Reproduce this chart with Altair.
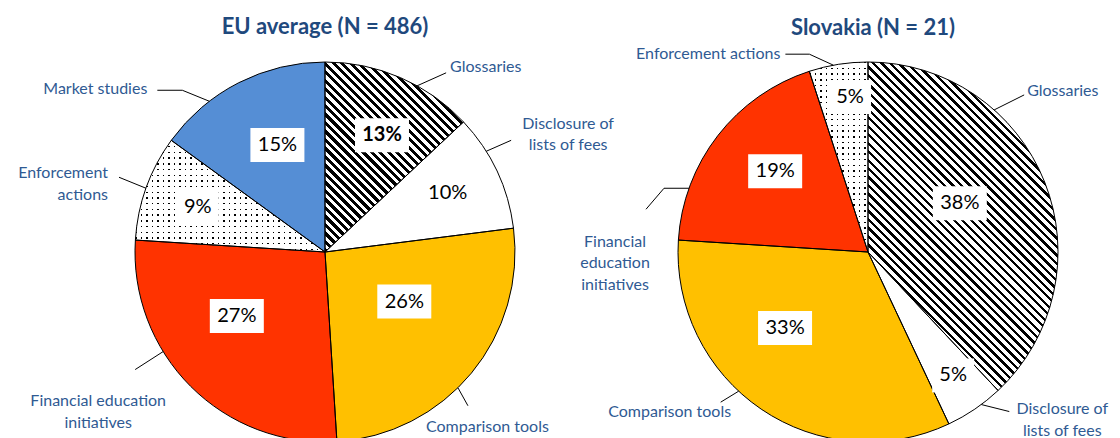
import json
import math

import altair as alt
import pandas as pd

# ---------------- data ----------------
categories = [
    "Glossaries",
    "Disclosure of lists of fees",
    "Comparison tools",
    "Financial education initiatives",
    "Enforcement actions",
    "Market studies",
]
eu_values = [13, 10, 26, 27, 9, 15]

sk_categories = [
    "Glossaries",
    "Disclosure of lists of fees",
    "Comparison tools",
    "Financial education initiatives",
    "Enforcement actions",
]
sk_values = [38, 5, 33, 19, 5]

titles = ["EU average (N = 486)", "Slovakia (N = 21)"]

eu_label_text = [
    "Glossaries",
    "Disclosure of\nlists of fees",
    "Comparison tools",
    "Financial education\ninitiatives",
    "Enforcement\nactions",
    "Market studies",
]
sk_label_text = [
    "Glossaries",
    "Disclosure of\nlists of fees",
    "Comparison tools",
    "Financial\neducation\ninitiatives",
    "Enforcement  actions",
]
eu_bold_pct = ["Glossaries"]
sk_bold_pct = []

# ---------------- layout / style ----------------
PAGE = 8
WIDTH, HEIGHT = 1104, 440
RADIUS = 190
FONT = "Lato"
TITLE_COLOR = "#1F497D"
LABEL_COLOR = "#2F5A93"

eu_center = (325 - PAGE, 252 - PAGE)
sk_center = (868 - PAGE, 252 - PAGE)
title_pos = [(325 - PAGE, 27 - PAGE), (873 - PAGE, 28 - PAGE)]

solid_fill = {
    "Disclosure of lists of fees": "#FFFFFF",
    "Comparison tools": "#FFC000",
    "Financial education initiatives": "#FF3300",
    "Market studies": "#558ED5",
}
hatch_cats = ["Glossaries"]
dot_cats = ["Enforcement actions"]

# percent label placement: angle nudge from slice middle (deg), distance from centre (px)
eu_pct_nudge = [2.6, -0.4, -7.6, 9.0, -0.3, 3.0]
eu_pct_r = [130, 136, 93.5, 109, 135, 117]
sk_pct_nudge = [-6.4, -0.4, 13.3, 3.2, 2.4]
sk_pct_r = [104, 150, 112.5, 123, 156]

# leader lines: rim angle, relative moves, text offset from last point, text align
eu_leaders = [
    (29, [(29, -13)], (4, -6), "left"),
    (58, [(25, -11)], (57, -16.5), "center"),
    (135.6, [(10, 18)], (19.5, 21), "center"),
    (238.4, [(-28, 18)], (-37, 31.5), "center"),
    (289.6, [(-27, -11)], (-11, -4), "right"),
    (322.5, [(-27, -11), (-25, 0)], (-10, -1), "right"),
]
sk_leaders = [
    (41.6, [(30, -15)], (3, -4), "left"),
    (143.4, [(28, 7)], (53, -2.5), "center"),
    (222.9, [(-18, 11)], (-51, 10), "center"),
    (289.6, [(-25, 0), (-18, 21)], (-31, 32.5), "center"),
    (349.5, [(-24, -11), (-24, 0)], (-5, 0), "right"),
]


def stripe_stops(length, period, on, on_color, off_color):
    stops = [{"offset": 0, "color": on_color}]
    k = 0
    while k * period < length:
        s = k * period / length
        e = min((k * period + on) / length, 1.0)
        if k > 0:
            stops.append({"offset": round(s, 5), "color": off_color})
            stops.append({"offset": round(s, 5), "color": on_color})
        stops.append({"offset": round(e, 5), "color": on_color})
        stops.append({"offset": round(e, 5), "color": off_color})
        k += 1
    stops.append({"offset": 1, "color": off_color})
    return stops


def hatch_gradient(w, h, period, on):
    t = (w + h) / (w * w + h * h)
    L = (w + h) / math.sqrt(2)
    return {
        "gradient": "linear",
        "x1": 0, "y1": 1, "x2": t * w, "y2": 1 - t * h,
        "stops": stripe_stops(L, period, on, "#000000", "#FFFFFF"),
    }


def vline_gradient(w, period=5.5, on=1.4):
    return {
        "gradient": "linear",
        "x1": 0, "y1": 0, "x2": 1, "y2": 0,
        "stops": stripe_stops(w, period, on, "#000000", "#FFFFFF"),
    }


def hmask_gradient(h, period=5.7, on=1.4):
    return {
        "gradient": "linear",
        "x1": 0, "y1": 0, "x2": 0, "y2": 1,
        "stops": stripe_stops(h, period, on, "rgba(255,255,255,0)", "#FFFFFF"),
    }


def slice_bbox(a0, a1, r):
    pts = [(0.0, 0.0)]
    angles = [a0, a1] + [q for q in (0, 90, 180, 270, 360) if a0 < q < a1]
    for a in angles:
        rad = math.radians(a)
        pts.append((r * math.sin(rad), -r * math.cos(rad)))
    xs, ys = zip(*pts)
    return max(xs) - min(xs), max(ys) - min(ys)


def cond_fill(mapping, default):
    return {
        "value": default,
        "condition": [
            {"test": f"datum.cat === {json.dumps(k)}", "value": v}
            for k, v in mapping.items()
        ],
    }


def pie_layers(cats, vals, center, hatch_on):
    df = pd.DataFrame({"cat": cats, "value": vals, "ord": list(range(len(cats)))})
    total = sum(vals)
    fills, masks = {}, {}
    cum = 0
    for c, v in zip(cats, vals):
        a0 = cum / total * 360
        a1 = (cum + v) / total * 360
        cum += v
        w, h = slice_bbox(a0, a1, RADIUS)
        if c in hatch_cats:
            fills[c] = hatch_gradient(w, h, 6.0, hatch_on)
        elif c in dot_cats:
            fills[c] = vline_gradient(w)
            masks[c] = hmask_gradient(h)
        else:
            fills[c] = solid_fill[c]
    enc = dict(
        theta=alt.Theta("value:Q", stack=True, scale=alt.Scale(domain=[0, total])),
        order=alt.Order("ord:Q"),
        x=alt.value(center[0]),
        y=alt.value(center[1]),
    )
    base = alt.Chart(df).mark_arc(radius=RADIUS, strokeWidth=0).encode(
        fill=cond_fill(fills, "#FFFFFF"), **enc
    )
    mask = alt.Chart(df).mark_arc(radius=RADIUS, strokeWidth=0).encode(
        fill=cond_fill(masks, "rgba(255,255,255,0)"), **enc
    )
    outline = alt.Chart(df).mark_arc(
        radius=RADIUS, fillOpacity=0, stroke="#000000", strokeWidth=1
    ).encode(**enc)
    return [base, mask, outline]


def pct_rows(cats, vals, center, nudges, radii, bold_list):
    rows = []
    total = sum(vals)
    cum = 0
    for c, v, n, r in zip(cats, vals, nudges, radii):
        mid = math.radians((cum + v / 2) / total * 360 + n)
        cum += v
        x = center[0] + r * math.sin(mid)
        y = center[1] - r * math.cos(mid)
        txt = f"{v}%"
        bw = 30 + 12 * len(str(v))
        bh = 34
        rows.append(dict(x=x, y=y, x0=x - bw / 2, x1=x + bw / 2,
                         y0=y - bh / 2, y1=y + bh / 2, text=txt,
                         bold=c in bold_list))
    return rows


def leader_rows(labels, leaders, center):
    segs, texts = [], []
    for lab, (ang, moves, toff, align) in zip(labels, leaders):
        rad = math.radians(ang)
        px = center[0] + RADIUS * math.sin(rad)
        py = center[1] - RADIUS * math.cos(rad)
        for dx, dy in moves:
            segs.append(dict(x=px, y=py, x2=px + dx, y2=py + dy))
            px, py = px + dx, py + dy
        texts.append(dict(x=px + toff[0], y=py + toff[1], text=lab, align=align))
    return segs, texts


layers = []
layers += pie_layers(categories, eu_values, eu_center, 3.0)
layers += pie_layers(sk_categories, sk_values, sk_center, 2.4)

pct = pd.DataFrame(
    pct_rows(categories, eu_values, eu_center, eu_pct_nudge, eu_pct_r, eu_bold_pct)
    + pct_rows(sk_categories, sk_values, sk_center, sk_pct_nudge, sk_pct_r, sk_bold_pct)
)

boxes = alt.Chart(pct).mark_rect(color="#FFFFFF").encode(
    x=alt.X("x0:Q", scale=None), x2="x1:Q",
    y=alt.Y("y0:Q", scale=None), y2="y1:Q",
)
pct_normal = alt.Chart(pct).transform_filter("!datum.bold").mark_text(
    font=FONT, fontSize=20, color="#000000", baseline="middle", align="center"
).encode(x=alt.X("x:Q", scale=None), y=alt.Y("y:Q", scale=None), text="text:N")
pct_bold = alt.Chart(pct).transform_filter("datum.bold").mark_text(
    font=FONT, fontSize=20, fontWeight="bold", color="#000000",
    baseline="middle", align="center"
).encode(x=alt.X("x:Q", scale=None), y=alt.Y("y:Q", scale=None), text="text:N")
layers += [boxes, pct_normal, pct_bold]

eu_segs, eu_texts = leader_rows(eu_label_text, eu_leaders, eu_center)
sk_segs, sk_texts = leader_rows(sk_label_text, sk_leaders, sk_center)
segs = pd.DataFrame(eu_segs + sk_segs)
texts = pd.DataFrame(eu_texts + sk_texts)

rules = alt.Chart(segs).mark_rule(color="#000000", strokeWidth=1).encode(
    x=alt.X("x:Q", scale=None), y=alt.Y("y:Q", scale=None),
    x2="x2:Q", y2="y2:Q",
)
layers.append(rules)
for al in ["left", "center", "right"]:
    layers.append(
        alt.Chart(texts).transform_filter(f"datum.align === '{al}'").mark_text(
            font=FONT, fontSize=16, color=LABEL_COLOR, align=al,
            baseline="middle", lineBreak="\n", lineHeight=21.5,
        ).encode(x=alt.X("x:Q", scale=None), y=alt.Y("y:Q", scale=None), text="text:N")
    )

tdf = pd.DataFrame({"text": titles, "x": [p[0] for p in title_pos], "y": [p[1] for p in title_pos]})
layers.append(
    alt.Chart(tdf).mark_text(
        font=FONT, fontSize=22, fontWeight="bold", color=TITLE_COLOR,
        align="center", baseline="middle",
    ).encode(x=alt.X("x:Q", scale=None), y=alt.Y("y:Q", scale=None), text="text:N")
)

chart = alt.layer(*layers).properties(
    width=WIDTH, height=HEIGHT,
    autosize=alt.AutoSizeParams(type="none"), padding=0,
).configure_view(strokeWidth=0)

chart.save("out.html", embed_options={"renderer": "svg", "actions": False})
